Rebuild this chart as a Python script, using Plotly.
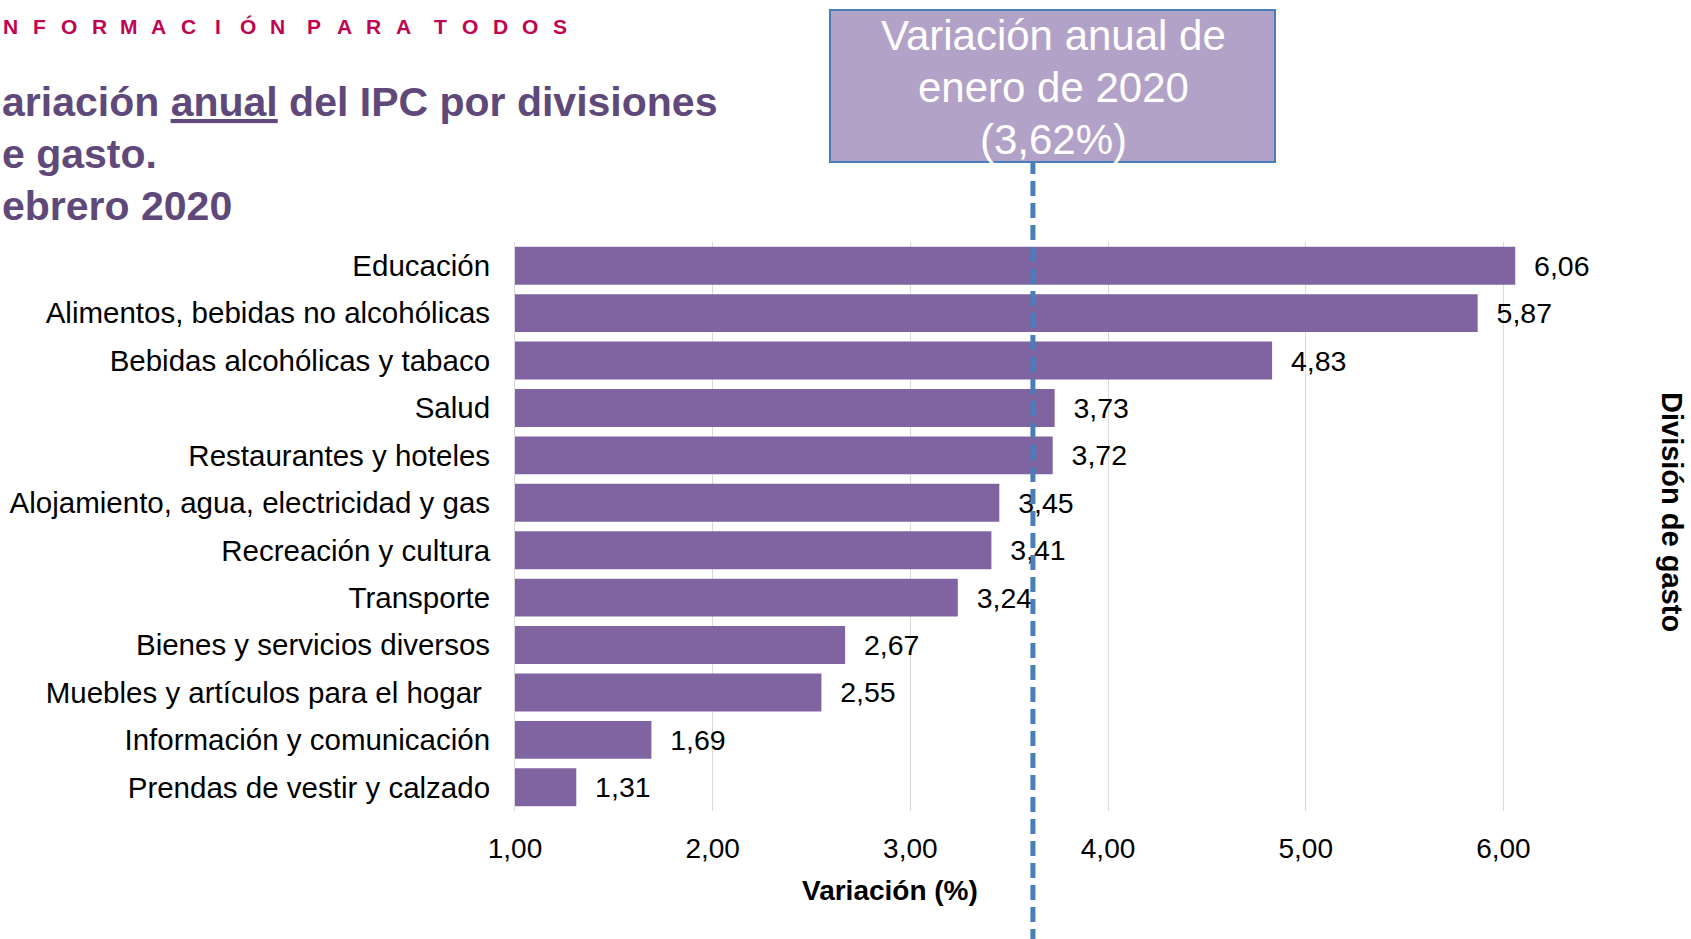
import plotly.graph_objects as go

# ---------------- data ----------------
categories = [
    "Educación",
    "Alimentos, bebidas no alcohólicas",
    "Bebidas alcohólicas y tabaco",
    "Salud",
    "Restaurantes y hoteles",
    "Alojamiento, agua, electricidad y gas",
    "Recreación y cultura",
    "Transporte",
    "Bienes y servicios diversos",
    "Muebles y artículos para el hogar\u00a0",
    "Información y comunicación",
    "Prendas de vestir y calzado",
]
values = [6.06, 5.87, 4.83, 3.73, 3.72, 3.45, 3.41, 3.24, 2.67, 2.55, 1.69, 1.31]
reference_value = 3.62  # variación anual de enero de 2020
x_ticks = [1, 2, 3, 4, 5, 6]

header_words = ["NFORMACIÓN", "PARA", "TODOS"]
title_lines = ["ariación <u>anual</u> del IPC por divisiones", "e gasto.", "ebrero 2020"]
box_lines = ["Variación anual de", "enero de 2020",
             "(" + f"{reference_value:.2f}".replace(".", ",") + "%)"]
x_title = "Variación (%)"
y2_title = "División de gasto"

# ---------------- layout geometry ----------------
W, H = 1691, 939
L, R, T, B = 515, 69, 242, 128
PW, PH = W - L - R, H - T - B

def px(x):
    return (x - L) / PW

def py(y):
    return (H - B - y) / PH

BAR = "#8064A2"
TITLE_COL = "#5F497A"
FONT = "Liberation Sans, Arial, sans-serif"

fig = go.Figure()
fig.add_trace(go.Bar(
    x=values, y=categories, orientation="h",
    marker=dict(color=BAR, line=dict(width=0)),
    text=values,
    texttemplate="\u00a0\u00a0%{x:.2f}",
    textposition="outside",
    constraintext="none",
    cliponaxis=False,
    textfont=dict(family=FONT, size=28.5, color="#000000"),
    hoverinfo="skip",
))

annotations = []

# header, letter-spaced
pitch, word_gap = 29.7, 7.5
xc = 10
for wi, word in enumerate(header_words):
    if wi > 0:
        xc += word_gap
    for ch in word:
        annotations.append(dict(
            x=px(xc), y=py(26), xref="paper", yref="paper", text=f"<b>{ch}</b>",
            showarrow=False, xanchor="center", yanchor="middle",
            font=dict(family=FONT, size=21, color="#C0044F")))
        xc += pitch

# title lines
for i, line in enumerate(title_lines):
    annotations.append(dict(
        x=px(0), y=py(102 + 52 * i), xref="paper", yref="paper", text=f"<b>{line}</b>",
        showarrow=False, xanchor="left", yanchor="middle",
        font=dict(family=FONT, size=41, color=TITLE_COL)))

# box text, one line each
for i, line in enumerate(box_lines):
    annotations.append(dict(
        x=px(1053), y=py(36 + 51.7 * i), xref="paper", yref="paper", text=line,
        showarrow=False, xanchor="center", yanchor="middle", align="center",
        font=dict(family=FONT, size=42, color="#FFFFFF")))

# axis titles
annotations.append(dict(
    x=px(890), y=py(890), xref="paper", yref="paper", text=f"<b>{x_title}</b>",
    showarrow=False, xanchor="center", yanchor="middle",
    font=dict(family=FONT, size=28, color="#000000")))
annotations.append(dict(
    x=px(1672), y=py(512), xref="paper", yref="paper", text=f"<b>{y2_title}</b>",
    showarrow=False, xanchor="center", yanchor="middle", textangle=90,
    font=dict(family=FONT, size=29, color="#000000")))

shapes = [
    dict(type="rect", xref="paper", yref="paper",
         x0=px(830), x1=px(1275), y0=py(162), y1=py(10),
         fillcolor="#B3A2C7", line=dict(color="#4A7EBB", width=2), layer="above"),
    dict(type="line", xref="x", yref="paper",
         x0=reference_value, x1=reference_value, y0=py(H + 5), y1=py(163),
         line=dict(color="#4A7EBB", width=5, dash="15px,7px"), layer="above"),
]

fig.update_layout(
    width=W, height=H,
    margin=dict(l=L, r=R, t=T, b=B, autoexpand=False),
    paper_bgcolor="#FFFFFF", plot_bgcolor="#FFFFFF",
    separators=",.",
    showlegend=False,
    bargap=0.2,
    font=dict(family=FONT, size=28, color="#000000"),
    xaxis=dict(
        range=[1, 6.6], tickvals=x_ticks, tickformat=".2f",
        showgrid=True, gridcolor="#D9D9D9", gridwidth=1,
        zeroline=False, showline=False,
        ticks="outside", ticklen=12, tickcolor="rgba(0,0,0,0)",
        tickfont=dict(family=FONT, size=28, color="#000000"),
    ),
    yaxis=dict(
        autorange="reversed", type="category",
        showgrid=False, zeroline=False,
        showline=True, linecolor="#D9D9D9", linewidth=1,
        ticks="outside", ticklen=18, tickcolor="rgba(0,0,0,0)",
        tickfont=dict(family=FONT, size=29.5, color="#000000"),
    ),
    annotations=annotations,
    shapes=shapes,
)

fig.write_html(
    "out.html",
    config={"displayModeBar": False},
    post_script="document.body.style.margin='0';document.body.style.overflow='hidden';",
)
